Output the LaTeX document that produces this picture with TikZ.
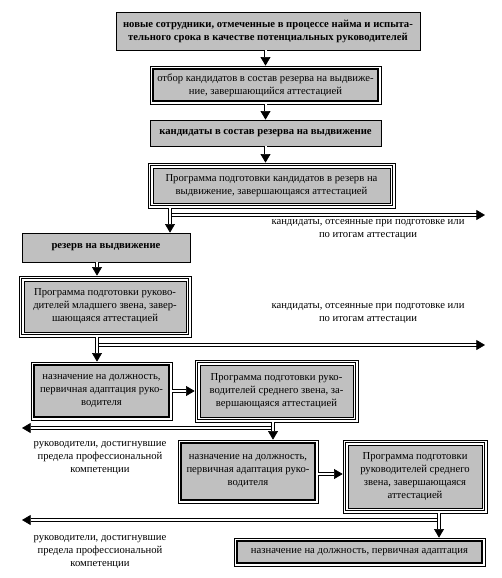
\documentclass[tikz,border=0pt]{standalone}
\usepackage{fontspec}
\setmainfont{Liberation Serif}
\usetikzlibrary{arrows.meta}
\definecolor{boxgray}{RGB}{192,192,192}

\begin{document}
\begin{tikzpicture}[
        x=0.75pt, y=-0.75pt,
        box/.style={draw, line width=0.5pt, fill=boxgray, inner sep=1pt, align=center,
                    font=\fontsize{8}{9.75}\selectfont},
        bbox/.style={box, font=\fontsize{8}{9.75}\selectfont\bfseries},
        dbox/.style={box, fill=white, path picture={
            \draw[line width=1.2pt, fill=boxgray]
                ([shift={(2.25pt,-2.25pt)}]path picture bounding box.north west) rectangle
                ([shift={(-2.25pt,2.25pt)}]path picture bounding box.south east);}},
        tbox/.style={box, fill=white, path picture={
            \draw[line width=1.2pt]
                ([shift={(1.9pt,-1.9pt)}]path picture bounding box.north west) rectangle
                ([shift={(-1.9pt,1.9pt)}]path picture bounding box.south east);
            \draw[line width=0.5pt, fill=boxgray]
                ([shift={(3.75pt,-3.75pt)}]path picture bounding box.north west) rectangle
                ([shift={(-3.75pt,3.75pt)}]path picture bounding box.south east);}},
        arr/.style={draw=black, double=white, line width=0.5pt, double distance=1.5pt,
                    -{Triangle[length=6.5pt, width=7.5pt]}},
        lbl/.style={align=center, font=\fontsize{8}{9.75}\selectfont}
    ]
    \useasboundingbox (0,0) rectangle (502,578);

    % --- recruiting and selection ---
    \node[bbox, minimum width=228pt, minimum height=28.5pt] (b1) at (268,31)
        {новые сотрудники, отмеченные в процессе найма и испыта-\\тельного срока в качестве потенциальных руководителей};
    \node[dbox, minimum width=173.25pt, minimum height=28.5pt] (b2) at (265.5,85)
        {отбор кандидатов в состав резерва на выдвиже-\\ние, завершающийся аттестацией};
    \node[bbox, minimum width=173.25pt, minimum height=19.5pt] (b3) at (265.5,133)
        {кандидаты в состав резерва на выдвижение};
    \node[tbox, minimum width=185.25pt, minimum height=33.75pt] (b4) at (271.5,185.5)
        {Программа подготовки кандидатов в резерв на\\выдвижение, завершающаяся аттестацией};

    % --- junior level ---
    \node[bbox, minimum width=126pt, minimum height=21.75pt] (b5) at (106,247.5)
        {резерв на выдвижение};
    \node[tbox, minimum width=129pt, minimum height=45.75pt] (b6) at (105,306.5)
        {Программа подготовки руково-\\дителей младшего звена, завер-\\шающаяся аттестацией};

    % --- middle level ---
    \node[dbox, minimum width=105.75pt, minimum height=43.5pt] (b7) at (101.5,391)
        {назначение на должность,\\первичная адаптация руко-\\водителя};
    \node[tbox, minimum width=122.25pt, minimum height=46.5pt] (b8) at (276.5,391)
        {Программа подготовки руко-\\водителей среднего звена, за-\\вершающаяся аттестацией};
    \node[dbox, minimum width=105pt, minimum height=47.25pt] (b9) at (248,471.5)
        {назначение на должность,\\первичная адаптация руко-\\водителя};
    \node[tbox, minimum width=108pt, minimum height=54.75pt] (b10) at (415,476.5)
        {Программа подготовки\\руководителей среднего\\звена, завершающаяся\\аттестацией};
    \node[dbox, minimum width=188.25pt, minimum height=21pt] (b11) at (359.5,552)
        {назначение на должность, первичная адаптация};

    % --- side notes ---
    \node[lbl] (l1) at (368,230) {кандидаты, отсеянные при подготовке или\\по итогам аттестации};
    \node[lbl] (l2) at (368,314) {кандидаты, отсеянные при подготовке или\\по итогам аттестации};
    \node[lbl] (l3) at (100,458) {руководители, достигнувшие\\предела профессиональной\\компетенции};
    \node[lbl] (l4) at (100,552) {руководители, достигнувшие\\предела профессиональной\\компетенции};

    % --- junctions and free ends ---
    \coordinate (j1) at (170,215);  \coordinate (e1) at (485,215);
    \coordinate (j2) at (97,345);   \coordinate (e2) at (485,345);
    \coordinate (j3) at (273,428);  \coordinate (e3) at (22,428);
    \coordinate (j4) at (439,520);  \coordinate (e4) at (22,520);
    \coordinate (h4) at (330,474);

    % --- arrows ---
    \draw[arr] (b1.south -| b2.north) -- (b2.north);
    \draw[arr] (b2.south) -- (b3.north);
    \draw[arr] (b3.south) -- (b4.north -| b3.south);
    \draw[arr] (j1) -- (e1);
    \draw[arr] (b4.south -| j1) -- (b5.north -| j1);
    \draw[arr] (b5.south -| j2) -- (b6.north -| j2);
    \draw[arr] (j2) -- (e2);
    \draw[arr] (b6.south -| j2) -- (b7.north -| j2);
    \draw[arr] (b7) -- (b8);
    \draw[arr] (j3) -- (e3);
    \draw[arr] (b8.south -| j3) -- (b9.north -| j3);
    \draw[arr] (b9.east |- h4) -- (b10.west |- h4);
    \draw[arr] (j4) -- (e4);
    \draw[arr] (b10.south -| j4) -- (b11.north -| j4);
\end{tikzpicture}
\end{document}
